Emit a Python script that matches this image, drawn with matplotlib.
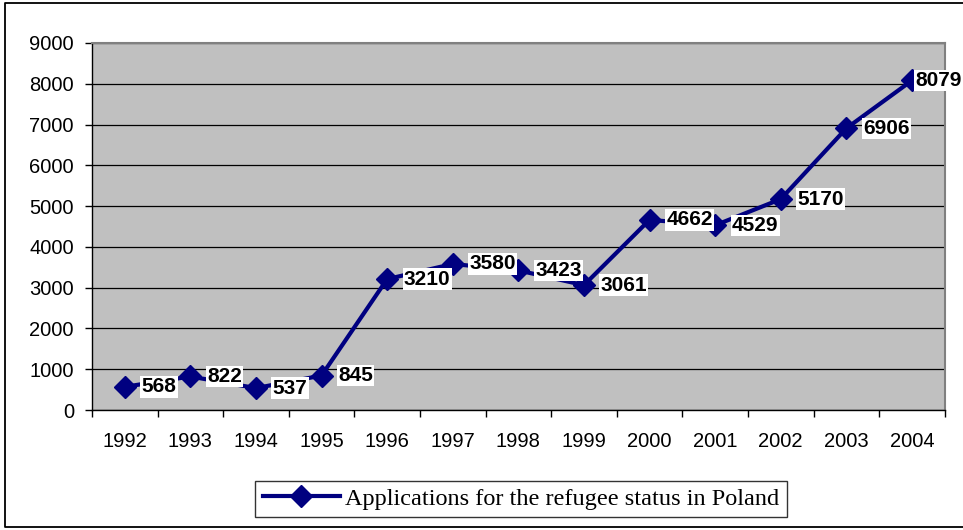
import matplotlib.pyplot as plt
from matplotlib.lines import Line2D

# data
years = ['1992', '1993', '1994', '1995', '1996', '1997', '1998',
         '1999', '2000', '2001', '2002', '2003', '2004']
applications = [568, 822, 537, 845, 3210, 3580, 3423, 3061, 4662, 4529, 5170, 6906, 8079]
yticks = list(range(0, 9001, 1000))

fig = plt.figure(figsize=(9.63, 5.30), dpi=100)
ax = fig.add_axes([0.0955, 0.2264, 0.8855, 0.6926])
ax.set_facecolor('#C0C0C0')

x = list(range(len(years)))
line, = ax.plot(x, applications, color='#000080', linewidth=3, marker='D',
                markersize=11, label='Applications for the refugee status in Poland',
                zorder=3)

for xi, v in zip(x, applications):
    # last label sits closer to its point so it stays inside the frame
    off = 2.5 if xi == len(years) - 1 else 12
    ax.annotate(str(v), (xi, v), xytext=(off, 0), textcoords='offset points',
                ha='left', va='center', fontsize=15, fontweight='bold',
                family='Liberation Sans', zorder=4, annotation_clip=False,
                bbox=dict(boxstyle='square,pad=0.06', fc='white', ec='none'))

ax.set_xlim(-0.5, len(years) - 0.5)
ax.set_ylim(0, 9000)
ax.set_yticks(yticks)
ax.set_yticklabels([str(t) for t in yticks], family='Liberation Sans', fontsize=14.5)
ax.yaxis.grid(True, color='black', linewidth=0.9)
ax.set_axisbelow(True)

# major ticks at category boundaries, labels at centres
ax.set_xticks([i - 0.5 for i in range(len(years) + 1)])
ax.set_xticklabels([])
ax.set_xticks(x, minor=True)
ax.set_xticklabels(years, minor=True, family='Liberation Sans', fontsize=14.5)
ax.tick_params(axis='x', which='minor', length=0, pad=16)
ax.tick_params(axis='both', which='major', direction='out', length=5, width=1, color='black')
ax.tick_params(axis='y', pad=8)

for s in ['top', 'right']:
    ax.spines[s].set_color('#808080')
    ax.spines[s].set_linewidth(1.5)
for s in ['left', 'bottom']:
    ax.spines[s].set_color('black')
    ax.spines[s].set_linewidth(1)

leg = fig.legend(handles=[line], loc='center', bbox_to_anchor=(0.541, 0.0585),
                 prop={'family': 'Liberation Serif', 'size': 17.5}, frameon=True,
                 fancybox=False, edgecolor='black', handlelength=3.2,
                 handletextpad=0.2, borderpad=0.3)
leg.get_frame().set_linewidth(1)

# outer chart frame: left, top and bottom edges (right edge is cut off)
fx0, fx1, fy0, fy1 = 0.005, 1.0, 0.006, 0.994
fig.lines.append(Line2D([fx1, fx0, fx0, fx1], [fy1, fy1, fy0, fy0],
                        transform=fig.transFigure, color='black', linewidth=1.3))

fig.savefig('out.png', dpi=100)
